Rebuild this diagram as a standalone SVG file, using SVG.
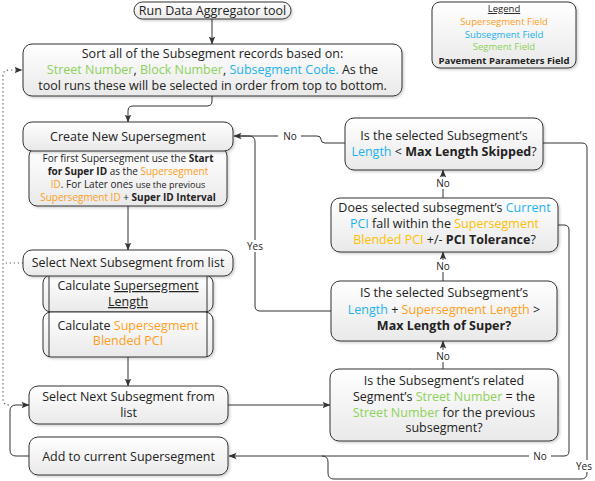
<svg xmlns="http://www.w3.org/2000/svg" width="595" height="481" viewBox="0 0 595 481">
<defs>
<linearGradient id="g" x1="0" y1="0" x2="0" y2="1">
<stop offset="0" stop-color="#ffffff"/>
<stop offset="1" stop-color="#e9e9e9"/>
</linearGradient>
<filter id="sh" x="-5%" y="-5%" width="115%" height="125%">
<feDropShadow dx="1.5" dy="1.5" stdDeviation="1" flood-color="#000" flood-opacity="0.18"/>
</filter>
<marker id="ah" viewBox="0 0 8 8" refX="7.5" refY="4" markerWidth="8" markerHeight="8" markerUnits="userSpaceOnUse" orient="auto">
<path d="M0,0.8 L8,4 L0,7.2 L1.8,4 Z" fill="#333"/>
</marker>
</defs>
<style>
.b{fill:url(#g);stroke:#333;stroke-width:1;filter:url(#sh)}
.t{font-family:"Open Sans","Noto Sans","DejaVu Sans",sans-serif;font-size:12.5px;fill:#222;text-anchor:middle}
.s{font-size:10px}
.xs{font-size:9px}
.l{font-size:9.5px}
.bo{font-weight:bold}
.or{fill:#FF9E1B}
.gd{fill:#FFC000}
.bl{fill:#1CB2EE}
.gr{fill:#8ED15A}
.c{fill:none;stroke:#333;stroke-width:1}
.d{fill:none;stroke:#555;stroke-width:1.2;stroke-dasharray:1.2 2.8}
.lb{font-family:"Open Sans","Noto Sans","DejaVu Sans",sans-serif;font-size:10px;fill:#222;text-anchor:middle}
</style>

<g id="connectors">
<path class="c" d="M212,19 V44" marker-end="url(#ah)"/>
<path class="c" d="M212,96 V101 Q212,106 207,106 H133 Q128,106 128,111 V122" marker-end="url(#ah)"/>
<path class="c" d="M128,206 V250" marker-end="url(#ah)"/>
<path class="c" d="M128,357 V386" marker-end="url(#ah)"/>
<path class="c" d="M228,405 H330" marker-end="url(#ah)"/>
<path class="c" d="M443,369 V341" marker-end="url(#ah)"/>
<path class="c" d="M443,281 V252" marker-end="url(#ah)"/>
<path class="c" d="M443,198 V170" marker-end="url(#ah)"/>
<path class="c" d="M345,143 H325 Q321,143 321,139.5 Q321,136 317,136 H234" marker-end="url(#ah)"/>
<path class="c" d="M331,311 H260 Q255,311 255,306 V142 Q255,136 249,136 H240"/>
<path class="c" d="M558,225 H564 Q569,225 569,230 V451 Q569,456 564,456 H229" marker-end="url(#ah)"/>
<path class="c" d="M543,143 H582 Q587,143 587,148 V473 Q587,479 581,479 H334 Q328,479 328,473 V462 Q328,456 322,456"/>
<path class="c" d="M29,456 H16 Q10,456 10,450 V411 Q10,405 16,405 H29" marker-end="url(#ah)"/>
<path class="d" d="M23,263 H3"/>
<path class="d" d="M9,405 Q3,405 3,399 V76 Q3,70 9,70 H22" marker-end="url(#ah)"/>
<rect x="278" y="130" width="23" height="12" fill="#fff"/>
<text class="lb" x="290" y="139.5">No</text>
<rect x="243" y="240" width="24" height="12" fill="#fff"/>
<text class="lb" x="255" y="250">Yes</text>
<rect x="434" y="177" width="18" height="12" fill="#fff"/>
<text class="lb" x="443" y="186.5">No</text>
<rect x="434" y="260" width="18" height="12" fill="#fff"/>
<text class="lb" x="443" y="269.5">No</text>
<rect x="434" y="350" width="18" height="12" fill="#fff"/>
<text class="lb" x="443" y="359.5">No</text>
<rect x="529" y="450" width="22" height="12" fill="#fff"/>
<text class="lb" x="540" y="459.5">No</text>
<rect x="574" y="460" width="21" height="12" fill="#fff"/>
<text class="lb" x="584" y="469.5">Yes</text>
</g>

<g id="run">
<rect class="b" x="134" y="2" width="157" height="17" rx="8.5"/>
<text class="t" x="212.5" y="14.5">Run Data Aggregator tool</text>
</g>

<g id="sort">
<rect class="b" x="23" y="44" width="379" height="52" rx="9"/>
<text class="t" x="212.5" y="57.5">Sort all of the Subsegment records based on:</text>
<text class="t" x="212.5" y="74"><tspan class="gr">Street Number</tspan>, <tspan class="gr">Block Number</tspan>, <tspan class="bl">Subsegment Code.</tspan>  As the</text>
<text class="t" x="212.5" y="90">tool runs these will be selected in order from top to bottom.</text>
</g>

<g id="legend">
<rect class="b" x="432" y="2" width="144" height="66" rx="8"/>
<text class="t l" x="504" y="12" text-decoration="underline">Legend</text>
<text class="t l or" x="504" y="25">Supersegment Field</text>
<text class="t l bl" x="504" y="38">Subsegment Field</text>
<text class="t l gr" x="504" y="50">Segment Field</text>
<text class="t l bo" x="504" y="63.5">Pavement Parameters Field</text>
</g>

<g id="create-sub">
<rect class="b" x="29" y="148" width="198" height="58" rx="8"/>
<text class="t s" x="128" y="162">For first Supersegment use the <tspan class="bo">Start</tspan></text>
<text class="t s" x="128" y="175"><tspan class="bo">for Super ID</tspan> as the <tspan class="or">Supersegment</tspan></text>
<text class="t s" x="128" y="188"><tspan class="or">ID</tspan>.  For Later ones <tspan class="xs">use the previous</tspan></text>
<text class="t s" x="128" y="201"><tspan class="or">Supersegment ID</tspan> + <tspan class="bo">Super ID Interval</tspan></text>
</g>

<g id="create">
<rect class="b" x="23" y="122" width="210" height="29" rx="9"/>
<text class="t" x="128" y="140.5">Create New Supersegment</text>
</g>

<g id="calc-length">
<rect class="b" x="43" y="275" width="170" height="37" rx="8"/>
<path class="c" d="M49,275 V312 M207,275 V312"/>
<text class="t" x="128" y="290">Calculate <tspan text-decoration="underline">Supersegment</tspan></text>
<text class="t" x="128" y="306" text-decoration="underline">Length</text>
</g>

<g id="calc-pci">
<rect class="b" x="43" y="312" width="170" height="45" rx="8"/>
<path class="c" d="M49,312 V357 M207,312 V357"/>
<text class="t" x="128" y="330"><tspan>Calculate </tspan><tspan class="or">Supersegment</tspan></text>
<text class="t or" x="128" y="345">Blended PCI</text>
</g>

<g id="select1">
<rect class="b" x="23" y="250" width="210" height="26" rx="9"/>
<text class="t" x="128" y="267">Select Next Subsegment from list</text>
</g>

<g id="select2">
<rect class="b" x="29" y="386" width="199" height="38" rx="9"/>
<text class="t" x="128.5" y="401">Select Next Subsegment from</text>
<text class="t" x="128.5" y="417">list</text>
</g>

<g id="add">
<rect class="b" x="29" y="437" width="199" height="38" rx="9"/>
<text class="t" x="128.5" y="460.5">Add to current Supersegment</text>
</g>

<g id="q-length">
<rect class="b" x="345" y="118" width="198" height="52" rx="9"/>
<text class="t" x="444" y="140">Is the selected Subsegment’s</text>
<text class="t" x="444" y="155.5"><tspan class="bl">Length</tspan> &lt; <tspan class="bo">Max Length Skipped</tspan>?</text>
</g>

<g id="q-pci">
<rect class="b" x="331" y="198" width="227" height="54" rx="9"/>
<text class="t" x="444.5" y="212"><tspan>Does selected subsegment’s </tspan><tspan class="bl">Current</tspan></text>
<text class="t" x="444.5" y="228"><tspan class="bl">PCI</tspan> fall within the <tspan class="gd">Supersegment</tspan></text>
<text class="t" x="444.5" y="244"><tspan class="gd">Blended PCI</tspan> +/- <tspan class="bo">PCI Tolerance</tspan>?</text>
</g>

<g id="q-super">
<rect class="b" x="331" y="281" width="226" height="60" rx="9"/>
<text class="t" x="444" y="297">IS the selected Subsegment’s</text>
<text class="t" x="444" y="314"><tspan class="bl">Length</tspan> + <tspan class="or">Supersegment Length</tspan> &gt;</text>
<text class="t bo" x="444" y="330">Max Length of Super?</text>
</g>

<g id="q-street">
<rect class="b" x="330" y="369" width="228" height="72" rx="9"/>
<text class="t" x="444" y="385">Is the Subsegment’s related</text>
<text class="t" x="444" y="401"><tspan>Segment’s </tspan><tspan class="gr">Street Number</tspan> = the</text>
<text class="t" x="444" y="417"><tspan class="gr">Street Number</tspan> for the previous</text>
<text class="t" x="444" y="432">subsegment?</text>
</g>
</svg>
